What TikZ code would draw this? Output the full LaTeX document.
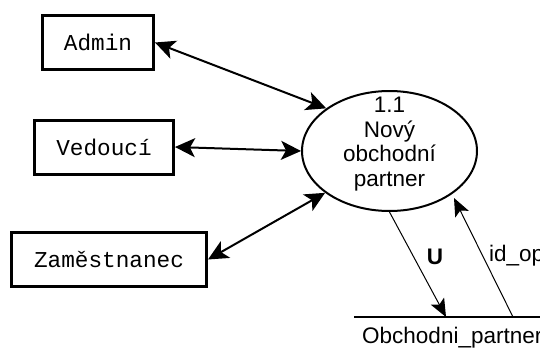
\documentclass[tikz,border=0pt]{standalone}
\usepackage{fontspec}
\setmainfont{Liberation Sans}
\newfontfamily\entfont{Liberation Mono}
\usetikzlibrary{arrows.meta,shapes.geometric}

\begin{document}
\begin{tikzpicture}[x=1pt,y=-1pt,
  entity/.style={draw,line width=3pt,minimum height=54pt,inner sep=0pt,
    font=\entfont\fontsize{22.7}{25}\selectfont},
  process/.style={ellipse,draw,line width=2pt,minimum width=175pt,
    minimum height=120pt,inner sep=0pt},
  bigtip/.tip={Stealth[length=20pt,width=19pt,inset=5pt]},
  smalltip/.tip={Stealth[length=18pt,width=15pt,inset=4pt]},
  flow/.style={line width=2pt,bigtip-bigtip},
  dflow/.style={line width=1pt,-smalltip},
  txt/.style={inner sep=0pt,font=\fontsize{22.5}{24.5}\selectfont}
]
\clip (0,0) rectangle (540,356);
\fill[white] (0,0) rectangle (540,356);

% external entities
\node[entity,minimum width=111pt] (admin) at (98,42.5) {Admin};
\node[entity,minimum width=139pt] (vedouci) at (104,147) {Vedoucí};
\node[entity,minimum width=195pt] (zam) at (109,259.5) {Zaměstnanec};

% process
\node[process] (proc) at (389.5,151) {};
\node[txt,align=center] (proctext) at (389.5,144) {1.1\\Nový\\obchodní\\partner};

% data store
\coordinate (storeL) at (354,317);
\coordinate (storeR) at (548,317);
\draw[line width=2pt] (storeL) -- (storeR);
\node[txt,anchor=base west] (store) at (362,343) {Obchodni\_partner};

% flows between entities and the process
\draw[flow] (admin.east) -- (proc.146);
\draw[flow] (vedouci.east) -- (proc.180);
\draw[flow] (zam.east) -- (proc.213);

% flows between the process and the store
\coordinate (uTip) at (446,317);
\coordinate (idFoot) at (513,317);
\coordinate (idTip) at (454,198);
\draw[dflow] (proc.270) -- (uTip);
\draw[dflow] (idFoot) -- (idTip);
\node[txt,font=\bfseries\fontsize{22.5}{24.5}\selectfont] (ulabel) at (435,257) {U};
\node[txt,anchor=base west] (idlabel) at (489,261) {id\_op};
\end{tikzpicture}
\end{document}
